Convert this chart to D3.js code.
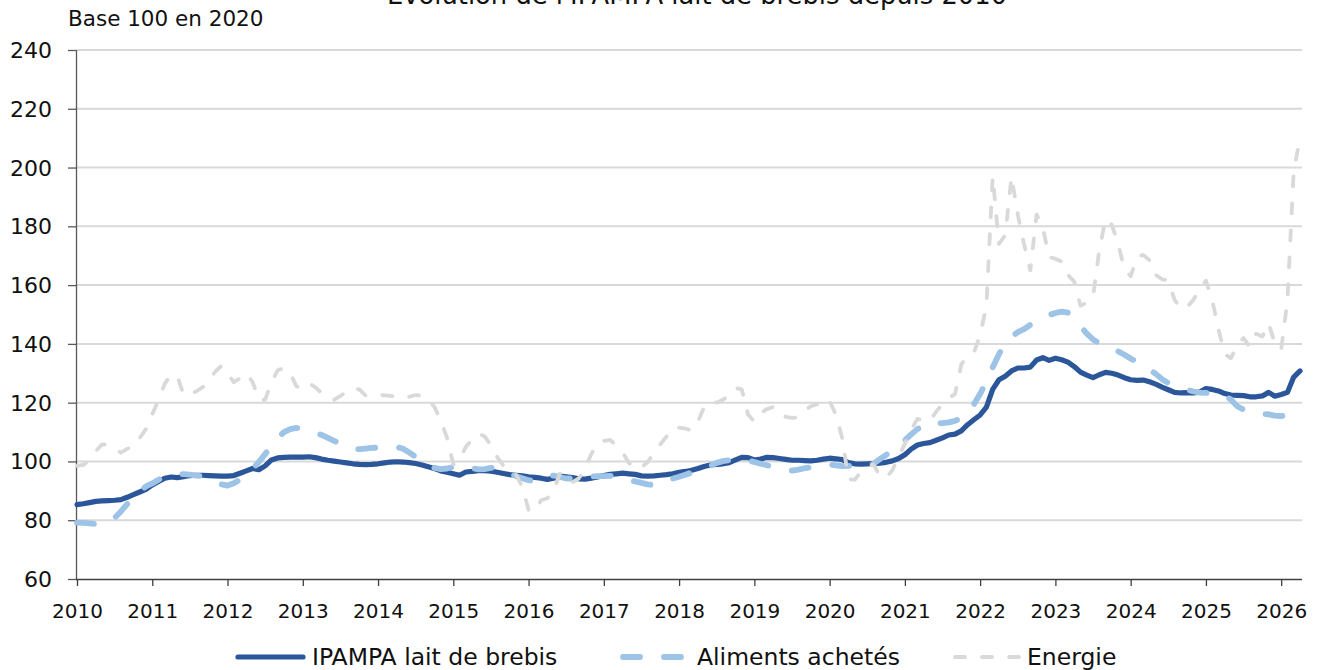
<!DOCTYPE html>
<html><head><meta charset="utf-8">
<script src="https://cdn.jsdelivr.net/npm/d3@7"></script>
<style>
html,body{margin:0;padding:0;background:#fff;}
svg{display:block;font-family:"DejaVu Sans",sans-serif;}
</style></head>
<body><svg id="chart" width="1320" height="670"></svg>
<script>
// ---- data ----
const title = "Evolution de l'IPAMPA lait de brebis depuis 2010";
const unitLabel = "Base 100 en 2020";
const yearLabels = ["2010","2011","2012","2013","2014","2015","2016","2017","2018","2019","2020","2021","2022","2023","2024","2025","2026"];
const yTicks = [60,80,100,120,140,160,180,200,220,240];
const seriesNames = ["IPAMPA lait de brebis","Aliments achetés","Energie"];
// monthly values, Jan 2010 .. Apr 2026
const ipampa = [
85.3,85.6,86,86.4,86.6,86.7,86.8,87,87.8,88.7,89.6,90.5,
92,93.2,94.3,94.7,94.5,94.8,95.2,95.3,95.3,95.2,95.1,95,
95,95.2,96,96.8,97.6,97.2,98.5,100.5,101.2,101.4,101.5,101.5,
101.5,101.6,101.3,100.8,100.4,100.1,99.8,99.5,99.2,99,98.9,99,
99.2,99.5,99.8,99.9,99.8,99.6,99.3,98.8,98.2,97.6,96.8,96.3,
95.8,95.3,96.4,96.6,96.9,96.9,96.7,96.3,95.9,95.5,95.3,95.1,
94.8,94.6,94.3,93.9,94.3,95,94.8,94.5,94.1,94,94.3,94.7,
95.2,95.6,95.8,96,95.8,95.6,95.1,95,95.1,95.3,95.5,95.8,
96.3,96.6,97,97.6,98.3,98.8,99,99.2,99.6,100.5,101.4,101.3,
100.5,100.8,101.4,101.3,101,100.7,100.4,100.4,100.3,100.2,100.4,100.8,
101.1,100.9,100.6,99.6,99.2,99.1,99.2,99.3,99.4,99.7,100.2,101,
102.3,104.2,105.6,106.1,106.4,107.2,108,109,109.3,110.4,112.5,114.2,
115.8,118.5,124.5,127.8,129,130.8,131.8,131.8,132.1,134.5,135.3,134.4,
135.1,134.6,133.8,132.3,130.4,129.4,128.5,129.5,130.3,130,129.4,128.5,
127.8,127.6,127.7,127.1,126.3,125.3,124.4,123.5,123.3,123.4,123.3,123.6,
124.8,124.5,124,123.1,122.6,122.5,122.4,122,122,122.3,123.5,122.2,
122.8,123.5,128.7,130.8];
const aliments = [
79.2,79.1,78.9,78.7,78.6,79.5,80.8,83,85.5,88,90,91.5,
92.5,93.8,94.7,95.2,95.6,95.7,95.5,95.2,95,94.2,93.2,92.2,
91.8,92.6,93.8,95.3,97.5,99.8,102.5,105.3,108,110,111,111.4,
111.2,110.5,109.8,109,108,107,106,105,104.3,104.2,104.4,104.6,
104.7,104.9,105,104.9,104.3,103,101.5,100,98.9,97.8,97.4,97.6,
98.1,98.5,98.3,97.7,97.3,97.4,97.8,97.7,97,96,95,94.3,
93.6,93.3,94,95.1,95.2,94.7,94.2,94.2,94.5,94.7,94.9,95,
95,95.1,95,94.5,93.6,93.2,92.7,92.2,91.9,92.3,93.2,94.2,
94.8,95.5,96.2,96.8,97.6,98.5,99.5,100.1,100.4,100.6,100.6,100.3,
99.8,99.2,98.7,98.2,97.6,97.1,96.9,97.2,97.7,98,98.5,98.9,
98.9,98.7,98.4,98.5,98.6,98.4,98.4,99.2,100.8,102.2,103.8,105.4,
107.2,109.2,111,112.5,113.4,113.2,113,113.3,113.8,114.8,116.5,119.4,
123,127.2,132,136.5,140.2,142.4,144,145,146.5,147.8,148.8,149.8,
150.5,151,150.6,148.5,146,143.5,141.5,140.2,139.5,138.4,137.5,136.3,
135,134,132.6,131.3,129.8,128,126.7,125.8,125,124.4,123.8,123.4,
123.3,123.3,123.2,122.5,121,118.8,117.6,116.8,116.4,116.2,116,115.6,
115.4,115.8,117,118.8];
const energie = [
98.5,98.8,100.5,103.5,105.8,105.7,104.5,103,104.3,105,108,111,
116,121,126.5,129.5,129,122.6,123,123.8,125.2,127.2,130.5,132.5,
130,127,128.3,130,127,121,121,127,131,131.8,130,125.5,
125,126.7,125.2,123.3,122,121,122.3,123.8,125,124.5,122.5,122.4,
122.6,122.5,122.3,122,121.7,122,122.6,122.3,121,118.5,114,108,
99,100.5,105,107.5,109.5,108.5,105.6,101.5,98.5,97.5,95.5,91.3,
83.5,83,86.8,87.5,90,96,95.5,93,94.2,97.5,102.5,106.3,
107,107.3,105.5,103,99.5,97.5,98,99.8,103,105.8,108.5,111.5,
111.5,111.2,110.5,113.5,118.5,120.5,120,121,122.5,125,124.5,116,
113.5,116.4,117.8,118.5,118,115.2,114.8,115,117.3,118.8,119.5,121.5,
120.5,116,108,94,93.7,96.5,98.1,99,95,94.4,97,101.5,
106,110.7,114.5,114,113.8,117,119.5,121.5,123,133,136,137,
143,153,197,174,177,197,184,174,165,184,179.5,169.5,
169,168,163.5,161.2,153,154,156,172,182.5,180.5,174,165.5,
163,169.5,170.3,168.5,163.5,162,161.5,155,152,152.5,155,158.5,
161.5,155,145,136.5,135.1,140,142,139,143.5,142.5,147,140,
138,155,199,210];

// ---- layout / style ----
const svg = d3.select("#chart");
const M = {left:77, right:1300, top:50, bottom:579};
const x = d3.scaleLinear().domain([0, ipampa.length-1]).range([M.left, M.right]);
const y = d3.scaleLinear().domain([60,240]).range([M.bottom, M.top]);
const styles = [
  {color:"#2B579A", width:5.2, dash:null},
  {color:"#9DC3E6", width:5.8, dash:"17,24"},
  {color:"#D9D9D9", width:3.8, dash:"10,17"}
];
const series = [ipampa, aliments, energie];

// gridlines
svg.append("g").selectAll("line").data(yTicks.filter(d=>d>60)).join("line")
  .attr("x1", M.left).attr("x2", 1302)
  .attr("y1", d=>y(d)).attr("y2", d=>y(d))
  .attr("stroke","#D9D9D9").attr("stroke-width",2);

// y axis
const yAxis = svg.append("g").attr("transform",`translate(${M.left},0)`)
  .call(d3.axisLeft(y).tickValues(yTicks).tickSize(9).tickPadding(16).tickFormat(d3.format("d")));
yAxis.select(".domain").attr("stroke","#595959").attr("stroke-width",1.3).attr("d",`M-0.5,${M.top}V${M.bottom}`);
yAxis.selectAll(".tick line").attr("stroke","#595959").attr("stroke-width",1.3);
yAxis.selectAll(".tick text").attr("font-size",22).attr("fill","#111").attr("font-family","DejaVu Sans").attr("dy","0.34em");

// x axis
const yearIdx = yearLabels.map((d,i)=>i*12);
const xAxis = svg.append("g").attr("transform",`translate(0,${M.bottom})`)
  .call(d3.axisBottom(x).tickValues(yearIdx).tickSize(7).tickPadding(14).tickFormat((d,i)=>yearLabels[i]));
xAxis.select(".domain").attr("stroke","#404040").attr("stroke-width",1.5).attr("d",`M${M.left-1},0.5H1302`);
xAxis.selectAll(".tick line").attr("stroke","#404040").attr("stroke-width",1.3);
xAxis.selectAll(".tick text").attr("font-size",20).attr("fill","#111").attr("font-family","DejaVu Sans").attr("dy","0.9em");

// lines
const line = d3.line().x((d,i)=>x(i)).y(d=>y(d));
series.forEach((s,k)=>{
  const st = styles[k];
  svg.append("path").datum(s).attr("d", line)
    .attr("fill","none").attr("stroke",st.color).attr("stroke-width",st.width)
    .attr("stroke-linejoin","round").attr("stroke-linecap","round")
    .attr("stroke-dasharray", st.dash);
});

// titles
svg.append("text").attr("x",697).attr("y",4).attr("text-anchor","middle")
  .attr("font-size",25.8).attr("fill","#111").text(title);
svg.append("text").attr("x",68).attr("y",26)
  .attr("font-size",21.5).attr("fill","#111").text(unitLabel);

// legend
const legendPos = [{x0:238,x1:303,tx:312},{x0:623,x1:686,tx:697},{x0:955,x1:1019,tx:1027}];
const lg = svg.append("g");
seriesNames.forEach((n,k)=>{
  const p = legendPos[k], st = styles[k];
  lg.append("line").attr("x1",p.x0).attr("x2",p.x1).attr("y1",657).attr("y2",657)
    .attr("stroke",st.color).attr("stroke-width",st.width).attr("stroke-linecap","round")
    .attr("stroke-dasharray", st.dash);
  lg.append("text").attr("x",p.tx).attr("y",665).attr("font-size",23.5).attr("fill","#111").text(n);
});
</script></body></html>
